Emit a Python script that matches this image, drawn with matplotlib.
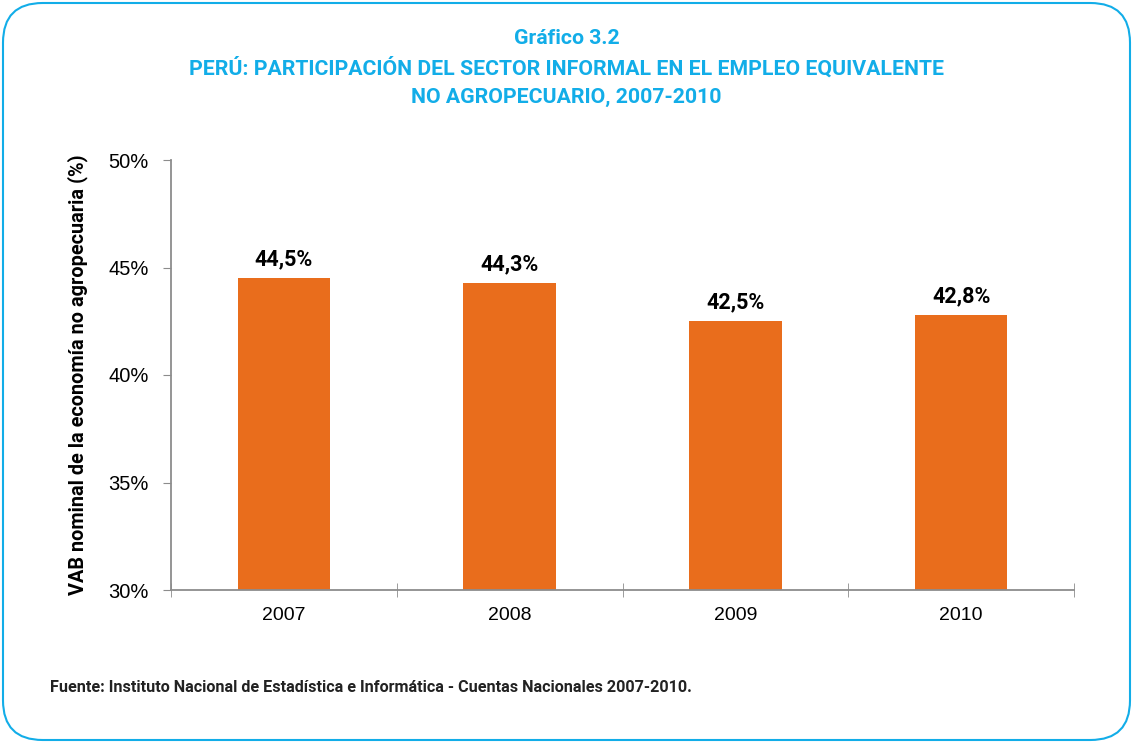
import matplotlib
matplotlib.use("Agg")
import matplotlib.pyplot as plt
from matplotlib import font_manager
from matplotlib.patches import FancyBboxPatch

# data
years = ["2007", "2008", "2009", "2010"]
share = [44.5, 44.3, 42.5, 42.8]
labels = ["44,5%", "44,3%", "42,5%", "42,8%"]
yticks = [30, 35, 40, 45, 50]

installed = {f.name for f in font_manager.fontManager.ttflist}
narrow = "Liberation Sans Narrow" if "Liberation Sans Narrow" in installed else "Roboto"
reg = "Liberation Sans"

cyan = "#12ADE8"
orange = "#E96D1C"
grey = "#8C8C8C"

fig = plt.figure(figsize=(11.33, 7.42), dpi=100)

# rounded frame
frame = FancyBboxPatch((3/1133, 2/742), 1127/1133, 737/742,
                       boxstyle="round,pad=0,rounding_size=0.035",
                       transform=fig.transFigure, fill=False,
                       edgecolor=cyan, linewidth=1.5, mutation_aspect=1133/742)
fig.patches.append(frame)

fig.text(0.5, 1-38/742, "Gráfico 3.2", ha="center", va="center",
         color=cyan, fontsize=15.3, fontweight="bold", family=narrow)
fig.text(0.5, 1-68/742, "PERÚ: PARTICIPACIÓN DEL SECTOR INFORMAL EN EL EMPLEO EQUIVALENTE",
         ha="center", va="center", color=cyan, fontsize=15.3, fontweight="bold", family=narrow)
fig.text(0.5, 1-97/742, "NO AGROPECUARIO, 2007-2010", ha="center", va="center",
         color=cyan, fontsize=15.3, fontweight="bold", family=narrow)

ax = fig.add_axes([171/1133, 1-590/742, 903/1133, 430/742])
x = range(len(years))
bars = ax.bar(x, share, width=0.41, color=orange, zorder=2)
for xi, v, lab in zip(x, share, labels):
    ax.text(xi, v + 0.35, lab, ha="center", va="bottom", fontsize=15.5,
            fontweight="bold", family=narrow)

ax.set_ylim(30, 50)
ax.set_xlim(-0.5, len(years) - 0.5)
ax.set_yticks(yticks)
ax.set_yticklabels([f"{t}%" for t in yticks], family=reg, fontsize=14.5)
ax.set_xticks(list(x))
ax.set_xticklabels(years, family=reg, fontsize=14)
ax.tick_params(axis="x", length=0, pad=12)
ax.tick_params(axis="y", length=6, color=grey, pad=10)
ax.set_xticks([i - 0.5 for i in range(len(years) + 1)], minor=True)
ax.tick_params(axis="x", which="minor", length=10, direction="inout", color=grey)

for s in ["top", "right"]:
    ax.spines[s].set_visible(False)
for s in ["left", "bottom"]:
    ax.spines[s].set_color(grey)
    ax.spines[s].set_linewidth(1.3)
    ax.spines[s].set_zorder(3)

ax.set_ylabel("VAB nominal de la economía no agropecuaria (%)", family=narrow,
              fontsize=14.3, fontweight="bold", labelpad=15)

fig.text(50/1133, 1-688/742,
         "Fuente: Instituto Nacional de Estadística e Informática - Cuentas Nacionales 2007-2010.",
         ha="left", va="center", fontsize=11.6, fontweight="bold", family=narrow,
         color="#222222")

fig.savefig("out.png", dpi=100, facecolor="white")
